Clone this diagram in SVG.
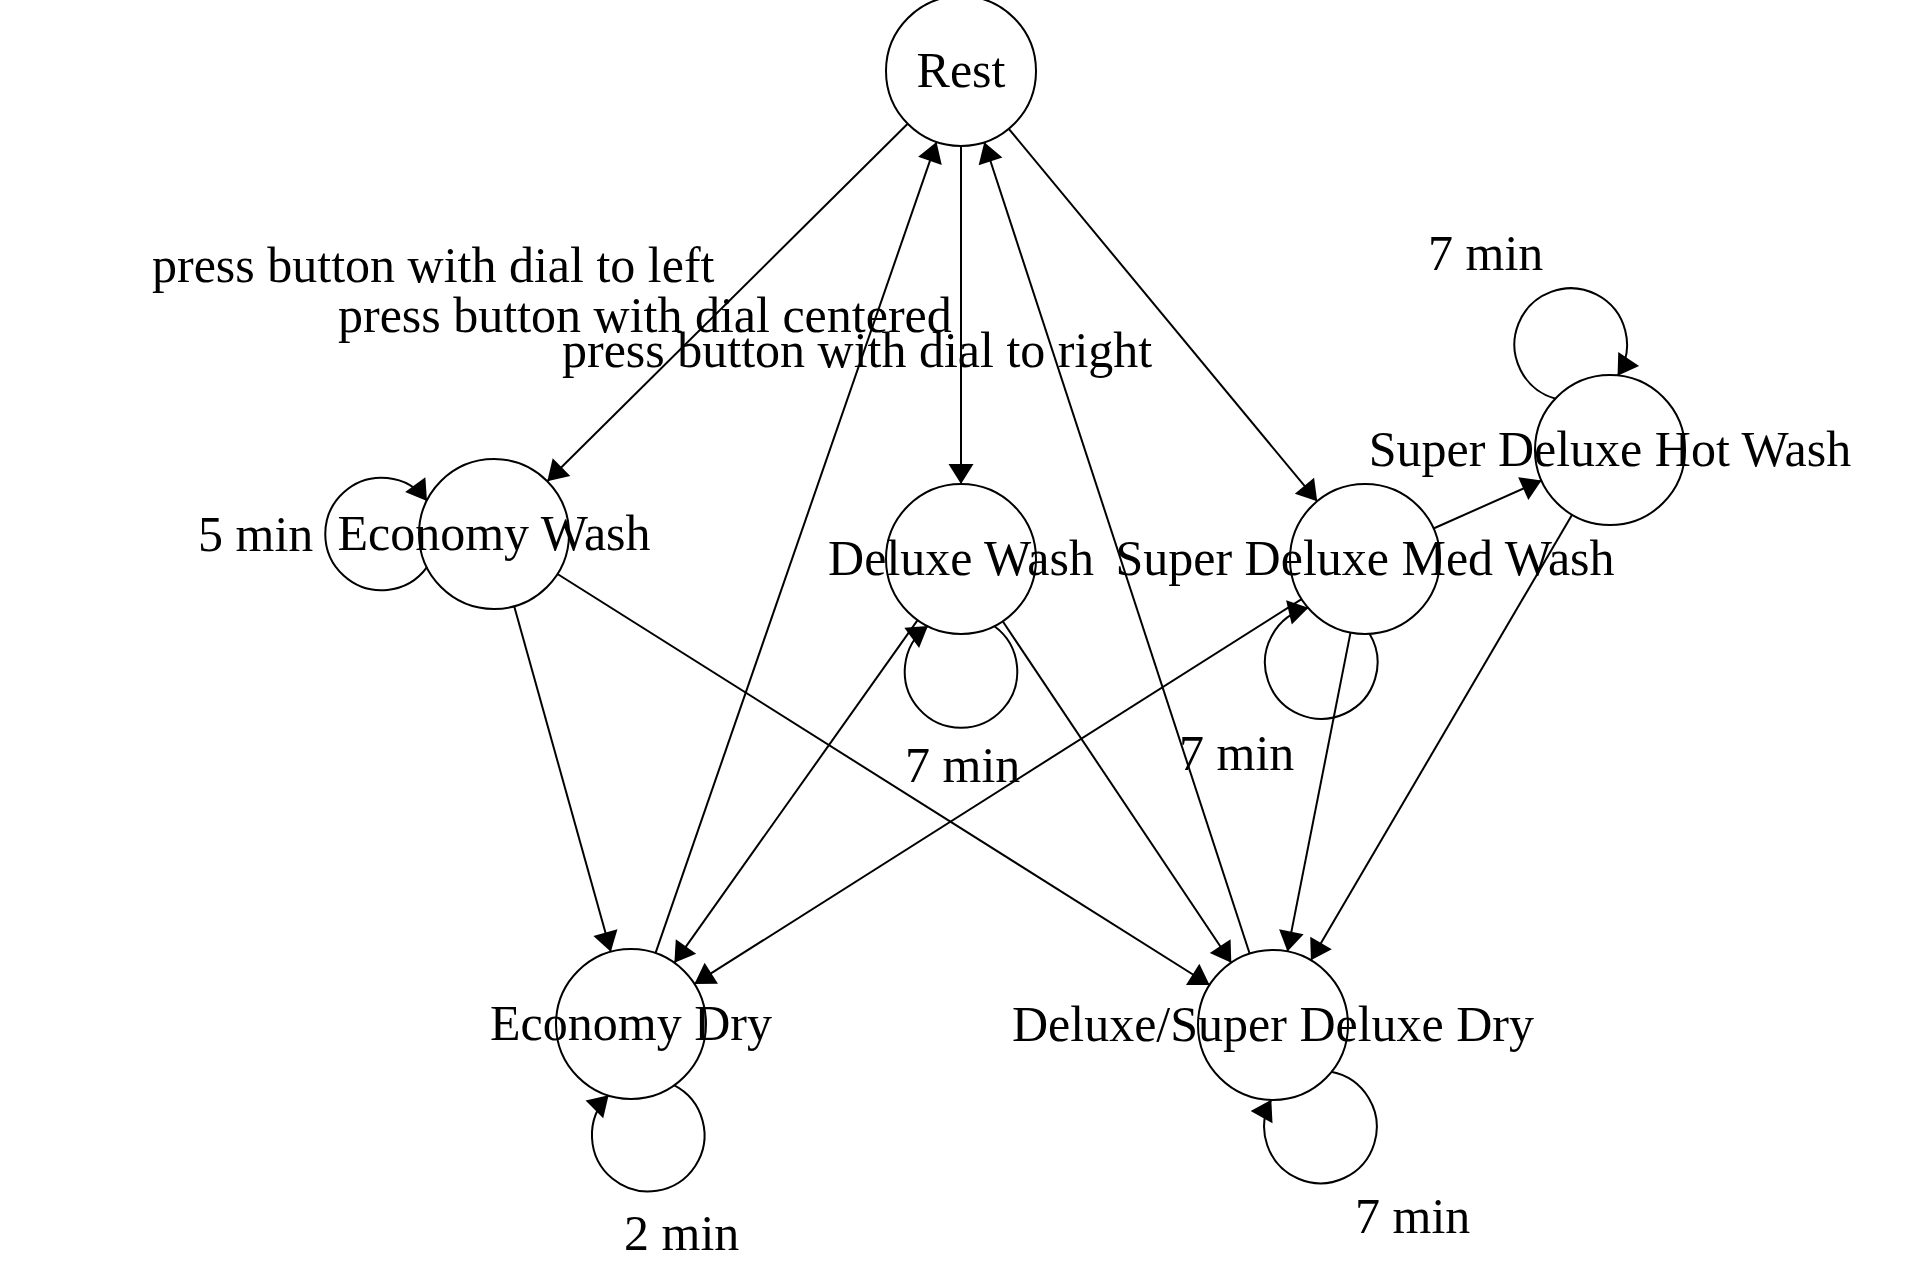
<svg xmlns="http://www.w3.org/2000/svg" width="1911" height="1281" viewBox="0 0 1911 1281">
<style>
.node circle{fill:none;stroke:#000;stroke-width:2}
.node text,.lbl{font-family:"Liberation Serif","Times New Roman",serif;font-size:50px;fill:#000}
.node text{text-anchor:middle}
.edge{fill:none;stroke:#000;stroke-width:2;marker-end:url(#arrow)}
</style>
<defs>
<marker id="arrow" markerUnits="userSpaceOnUse" markerWidth="20" markerHeight="25" viewBox="0 0 20 25" refX="20" refY="12.5" orient="auto" overflow="visible">
<path d="M0,0 L20,12.5 L0,25 z" fill="#000"/>
</marker>
</defs>
<rect width="1911" height="1281" fill="#fff"/>
<g id="connectors">
<line class="edge" x1="907.7" y1="123.8" x2="547.3" y2="481.2"/>
<line class="edge" x1="961" y1="146" x2="961" y2="484"/>
<line class="edge" x1="1008.8" y1="128.8" x2="1317.2" y2="501.2"/>
<line class="edge" x1="514.2" y1="606.2" x2="610.8" y2="951.8"/>
<line class="edge" x1="557.5" y1="574" x2="1209.6" y2="985"/>
<line class="edge" x1="655.5" y1="953.1" x2="936.5" y2="141.9"/>
<line class="edge" x1="917.6" y1="620.2" x2="674.4" y2="962.8"/>
<line class="edge" x1="1002.7" y1="621.3" x2="1231.3" y2="962.7"/>
<line class="edge" x1="1301.6" y1="599.1" x2="694.4" y2="983.9"/>
<line class="edge" x1="1350.5" y1="632.6" x2="1287.5" y2="951.4"/>
<line class="edge" x1="1433.5" y1="528.5" x2="1541.5" y2="480.5"/>
<line class="edge" x1="1572.1" y1="514.7" x2="1310.9" y2="960.3"/>
<line class="edge" x1="1249.7" y1="953.7" x2="984.3" y2="142.3"/>
<path class="edge" d="M427,567.1 A56.25,56.25 0 1 1 427,500.9"/>
<path class="edge" d="M994.1,626 A56.25,56.25 0 1 1 927.9,626"/>
<path class="edge" d="M1369.4,633.5 A56.25,56.25 0 1 1 1308.4,607.8"/>
<path class="edge" d="M1555.7,398.8 A56.25,56.25 0 1 1 1617.6,375.7"/>
<path class="edge" d="M673.9,1085.2 A56.25,56.25 0 1 1 608.6,1095.3"/>
<path class="edge" d="M1331.2,1071.8 A56.25,56.25 0 1 1 1271.3,1099.7" stroke-width="3"/>
<text class="lbl" x="152" y="282">press button with dial to left</text>
<text class="lbl" x="338" y="332">press button with dial centered</text>
<text class="lbl" x="562" y="367">press button with dial to right</text>
<text class="lbl" x="198" y="551">5 min</text>
<text class="lbl" x="905" y="782">7 min</text>
<text class="lbl" x="1179" y="770">7 min</text>
<text class="lbl" x="1428" y="270">7 min</text>
<text class="lbl" x="624" y="1250">2 min</text>
<text class="lbl" x="1355" y="1233">7 min</text>
</g>
<g id="node-rest" class="node"><circle cx="961" cy="71" r="75"/><text x="961" y="87">Rest</text></g>
<g id="node-economy-wash" class="node"><circle cx="494" cy="534" r="75"/><text x="494" y="550">Economy Wash</text></g>
<g id="node-deluxe-wash" class="node"><circle cx="961" cy="559" r="75"/><text x="961" y="575">Deluxe Wash</text></g>
<g id="node-super-deluxe-med-wash" class="node"><circle cx="1365" cy="559" r="75"/><text x="1365" y="575">Super Deluxe Med Wash</text></g>
<g id="node-super-deluxe-hot-wash" class="node"><circle cx="1610" cy="450" r="75"/><text x="1610" y="466">Super Deluxe Hot Wash</text></g>
<g id="node-economy-dry" class="node"><circle cx="631" cy="1024" r="75"/><text x="631" y="1040">Economy Dry</text></g>
<g id="node-deluxe-super-deluxe-dry" class="node"><circle cx="1273" cy="1025" r="75"/><text x="1273" y="1041">Deluxe/Super Deluxe Dry</text></g>
</svg>
